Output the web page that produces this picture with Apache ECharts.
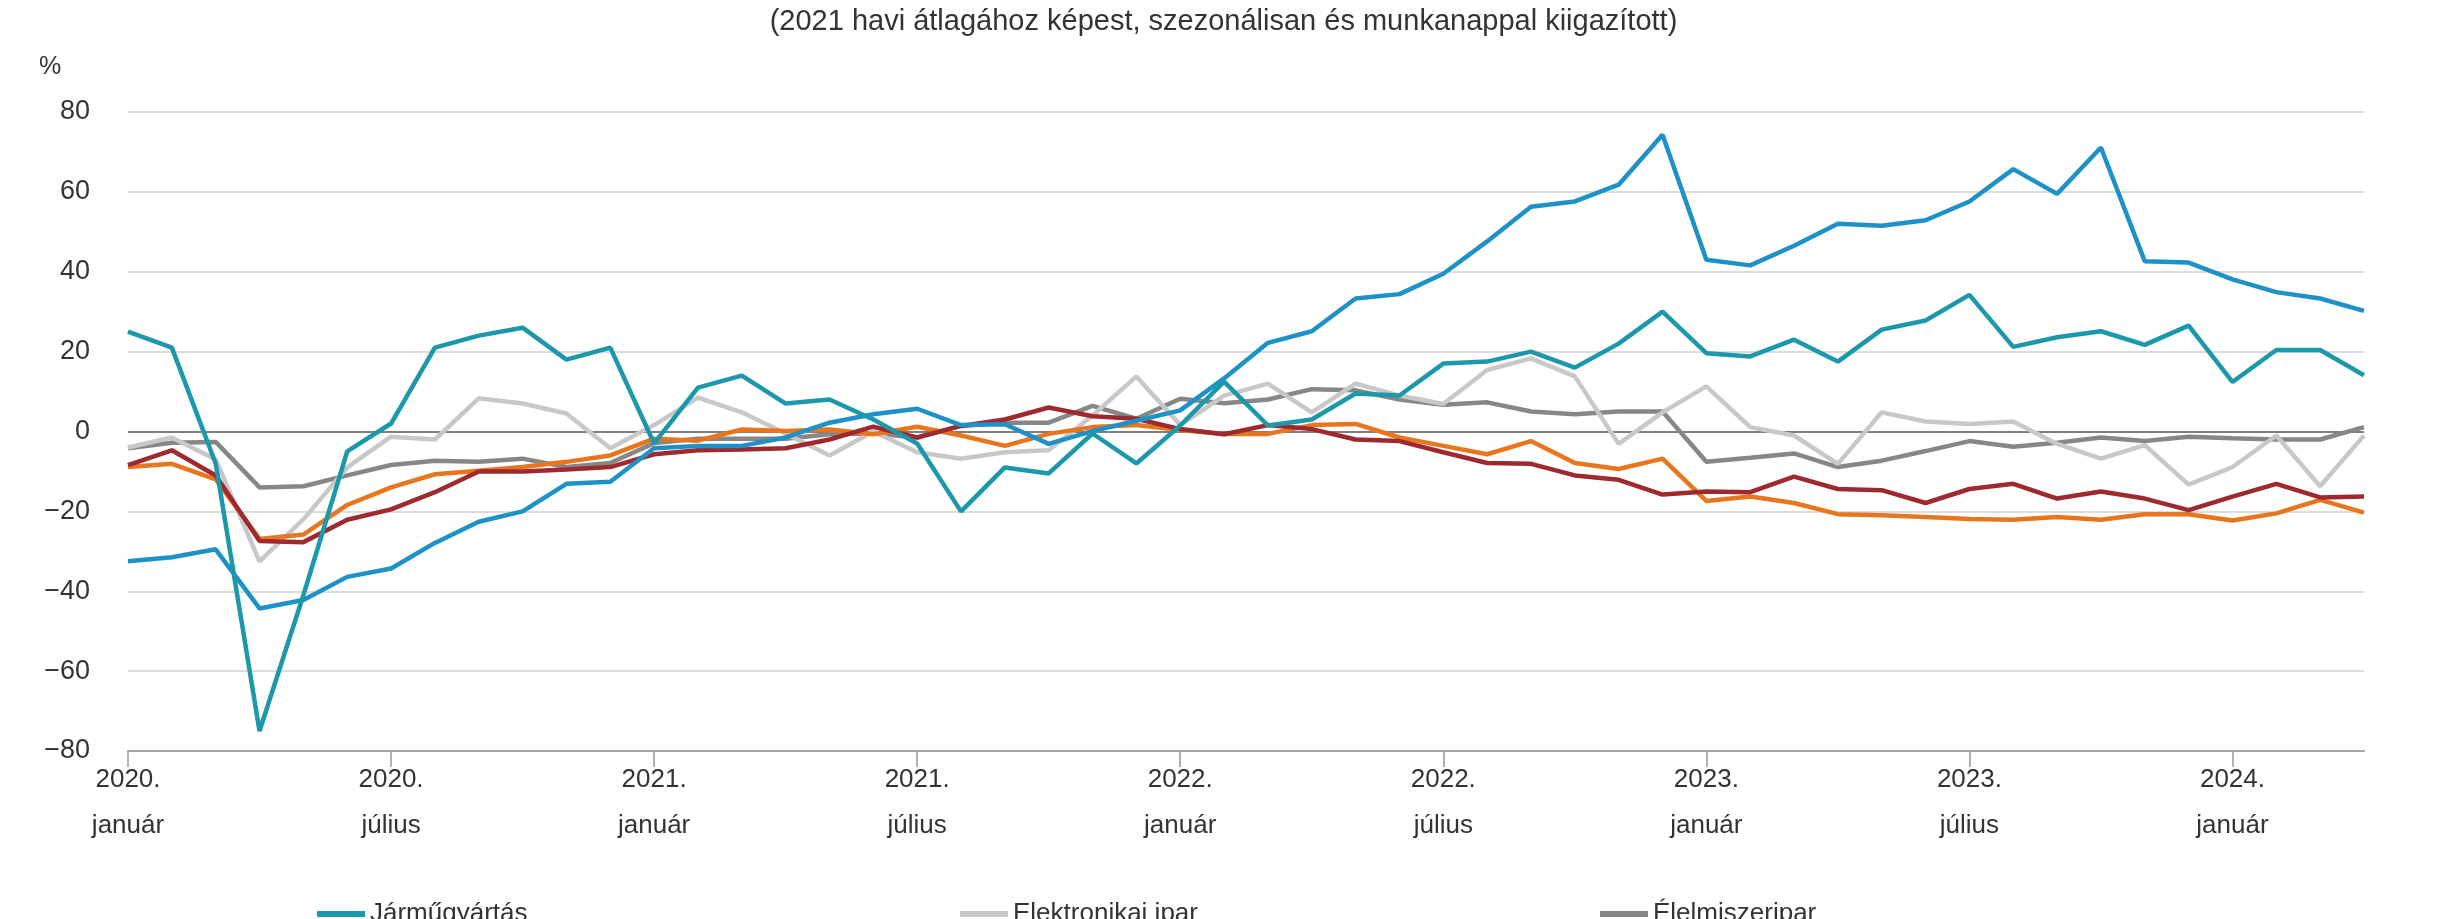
<!DOCTYPE html>
<html>
<head>
<meta charset="utf-8">
<script src="https://cdn.jsdelivr.net/npm/echarts@6/dist/echarts.min.js"></script>
<style>
  html, body { margin: 0; padding: 0; background: #fff; }
  #main { width: 2447px; height: 919px; }
</style>
</head>
<body>
<div id="main"></div>
<script>
// havi adatok, 2020. január – 2024. április
var honapok = ['január', 'február', 'március', 'április', 'május', 'június',
  'július', 'augusztus', 'szeptember', 'október', 'november', 'december'];
var kezdoEv = 2020;
var honapokSzama = 52;

var kategoriak = [];
for (var i = 0; i < honapokSzama; i++) {
  kategoriak.push((kezdoEv + Math.floor(i / 12)) + '. ' + honapok[i % 12]);
}

var jarmugyartas = [25, 21, -8, -75, -41, -5, 2, 21, 24, 26,
  18, 21, -3, 11, 14, 7, 8, 3, -3, -20,
  -9, -10.5, -0.5, -8, 1.5, 12.5, 1.5, 3, 9.5, 9,
  17, 17.5, 20, 16, 22, 30, 19.6, 18.8, 23, 17.5,
  25.5, 27.8, 34.2, 21.2, 23.6, 25.1, 21.7, 26.5, 12.4, 20.4,
  20.4, 14.1];

var villamos = [-32.5, -31.5, -29.5, -44.3, -42.2, -36.4, -34.3, -27.9, -22.6, -20,
  -13.1, -12.6, -4.2, -3.6, -3.6, -1.5, 2.2, 4.3, 5.7, 1.6,
  1.8, -3.1, 0.1, 2.7, 5.3, 13.3, 22.2, 25.1, 33.3, 34.4,
  39.5, 47.6, 56.3, 57.6, 61.8, 74.3, 43, 41.6, 46.5, 52,
  51.5, 52.9, 57.6, 65.7, 59.5, 71.1, 42.6, 42.3, 38.1, 34.9,
  33.3, 30.2];

var elektronika = [-4, -1.5, -7, -32.5, -22, -9, -1.3, -2, 8.3, 7,
  4.5, -4.2, 1.6, 8.5, 4.8, -0.5, -6, 0, -5.2, -6.8,
  -5.2, -4.7, 4, 13.8, 1.6, 9, 12, 4.8, 12, 9,
  6.9, 15.4, 18.3, 13.8, -3.1, 4.8, 11.3, 1.1, -1, -8.1,
  4.8, 2.5, 1.9, 2.5, -3.1, -6.8, -3.4, -13.3, -8.9, -1,
  -13.7, -1];

var elelmiszer = [-4.2, -2.8, -2.6, -14, -13.7, -11, -8.4, -7.3, -7.6, -6.8,
  -8.9, -7.9, -2.9, -1.8, -1.8, -1.8, -0.7, -0.5, -1.5, 1.4,
  2.2, 2.2, 6.4, 3.2, 8.2, 7.1, 8, 10.6, 10.3, 8,
  6.7, 7.3, 5, 4.3, 5, 5, -7.6, -6.6, -5.5, -8.9,
  -7.3, -4.9, -2.4, -3.8, -2.8, -1.5, -2.4, -1.3, -1.7, -2,
  -2, 1.1];

var vegyipar = [-8.9, -8.1, -12, -26.9, -25.8, -18.4, -14, -10.7, -9.8, -8.9,
  -7.6, -6, -1.8, -2.3, 0.5, 0.1, 0.5, -0.7, 1.2, -1,
  -3.6, -0.6, 1.1, 1.6, 0.4, -0.6, -0.6, 1.6, 1.9, -1.5,
  -3.6, -5.7, -2.4, -7.9, -9.4, -6.8, -17.4, -16.3, -17.9, -20.7,
  -21, -21.4, -21.9, -22.1, -21.4, -22.1, -20.7, -20.7, -22.3, -20.5,
  -17.1, -20.3];

var femipar = [-8.4, -4.7, -11, -27.4, -27.7, -22.1, -19.5, -15.2, -10, -10,
  -9.5, -8.9, -5.7, -4.7, -4.5, -4.2, -2, 1.2, -1.5, 1.4,
  3, 6, 3.8, 3.2, 0.6, -0.7, 1.6, 0.6, -2, -2.4,
  -5.2, -7.9, -8.1, -11, -12.1, -15.8, -15, -15.2, -11.3, -14.4,
  -14.7, -17.9, -14.4, -13.1, -16.8, -15, -16.8, -19.7, -16.3, -13.1,
  -16.5, -16.3];

var betu = 'Liberation Sans, Arial, sans-serif';

function vonal(nev, adat, szin) {
  return {
    name: nev,
    type: 'line',
    data: adat,
    symbol: 'none',
    lineStyle: { color: szin, width: 4.5 },
    itemStyle: { color: szin }
  };
}

function jelmagyarazat(nev, bal) {
  return {
    data: [nev],
    left: bal,
    top: 896,
    icon: 'rect',
    itemWidth: 48,
    itemHeight: 6,
    textStyle: { fontFamily: betu, fontSize: 26, color: '#333' }
  };
}

var myChart = echarts.init(document.getElementById('main'));

var option = {
  backgroundColor: '#fff',
  animation: false,
  title: [
    {
      text: '(2021 havi átlagához képest, szezonálisan és munkanappal kiigazított)',
      left: 'center',
      top: 2,
      textStyle: { fontFamily: betu, fontSize: 29, fontWeight: 'normal', color: '#333' }
    },
    {
      text: '%',
      left: 34,
      top: 50,
      textStyle: { fontFamily: betu, fontSize: 25, fontWeight: 'normal', color: '#333' }
    }
  ],
  legend: [
    jelmagyarazat('Járműgyártás', 312),
    jelmagyarazat('Elektronikai ipar', 955),
    jelmagyarazat('Élelmiszeripar', 1595)
  ],
  grid: { left: 128, right: 83, top: 112, bottom: 168 },
  xAxis: {
    type: 'category',
    data: kategoriak,
    boundaryGap: false,
    axisLine: { onZero: false, lineStyle: { color: '#a8a8a8', width: 2 } },
    axisTick: { interval: 5, length: 16, lineStyle: { color: '#999', width: 1.5 } },
    axisLabel: {
      interval: 5,
      margin: 6,
      fontFamily: betu,
      fontSize: 26,
      lineHeight: 46,
      color: '#333',
      formatter: function (v) { return v.replace(' ', '\n'); }
    },
    splitLine: { show: false }
  },
  yAxis: {
    type: 'value',
    min: -80,
    max: 80,
    interval: 20,
    axisLine: { show: false },
    axisTick: { show: false },
    axisLabel: {
      margin: 38,
      fontFamily: betu,
      fontSize: 27,
      color: '#333',
      formatter: function (v) { return String(v).replace('-', '−'); }
    },
    splitLine: {
      lineStyle: {
        color: ['#dcdcdc', '#dcdcdc', '#dcdcdc', '#dcdcdc', '#7e7e7e',
          '#dcdcdc', '#dcdcdc', '#dcdcdc', '#dcdcdc'],
        width: 2
      }
    }
  },
  series: [
    vonal('Élelmiszeripar', elelmiszer, '#878787'),
    vonal('Elektronikai ipar', elektronika, '#c8c8c8'),
    vonal('Vegyipar', vegyipar, '#e8761e'),
    vonal('Fémipar', femipar, '#9e2a2f'),
    vonal('Villamosberendezés-gyártás', villamos, '#1e92c6'),
    vonal('Járműgyártás', jarmugyartas, '#1b98aa')
  ]
};

myChart.setOption(option);
</script>
</body>
</html>
